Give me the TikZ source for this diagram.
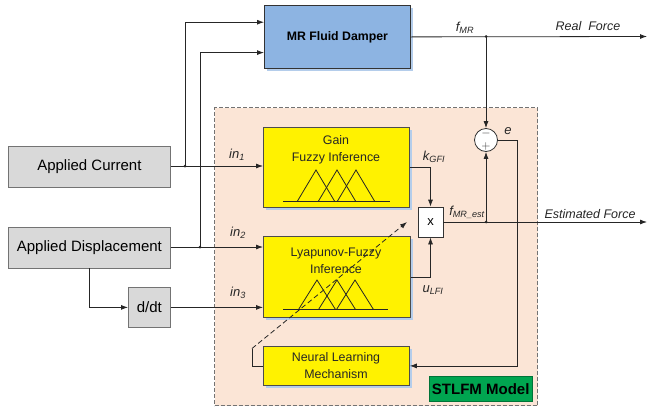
\documentclass[tikz,border=0pt]{standalone}
\usepackage{fontspec}
\setmainfont{Liberation Sans}
\usetikzlibrary{arrows.meta,calc,shadows}
\definecolor{peach}{HTML}{FBE5D6}
\definecolor{dampblue}{HTML}{8DB4E2}
\definecolor{shblue}{HTML}{B4CDEB}
\definecolor{boxgray}{HTML}{D9D9D9}
\definecolor{stlgreen}{HTML}{00A550}
\begin{document}
\begin{tikzpicture}[x=1pt,y=-1pt,
  line/.style={draw=black!85, line width=0.8pt},
  arr/.style={line, -{Latex[length=7pt,width=5pt]}},
  dot/.style={circle, fill=black!85, inner sep=0pt, minimum size=3pt},
  graybox/.style={draw=black!55, fill=boxgray, line width=0.8pt, inner sep=0pt,
    font=\fontsize{15}{17}\selectfont, anchor=north west},
  yelbox/.style={draw=black!70, fill=yellow, line width=0.8pt, inner sep=0pt, anchor=north west,
    drop shadow={shadow xshift=2.5pt, shadow yshift=-2.5pt, fill=shblue, opacity=1}},
  yeltext/.style={align=center, text=black!85, font=\fontsize{12.4}{17}\selectfont, inner sep=0pt},
  lab/.style={font=\fontsize{13}{15}\selectfont\itshape, text=black!85, inner sep=0pt},
  tri/.style={draw=black!85, line width=0.8pt}]
\useasboundingbox (0,0) rectangle (648,410);

% dashed model region
\node[draw=black!55, dashed, dash pattern=on 4pt off 2pt, line width=1pt, fill=peach,
  minimum width=323pt, minimum height=298pt, anchor=north west, inner sep=0pt] (region) at (214,107) {};

% MR fluid damper
\node[draw=black!80, fill=dampblue, line width=0.8pt, minimum width=146pt, minimum height=63pt,
  anchor=north west, inner sep=0pt, font=\fontsize{12.3}{14}\selectfont\bfseries,
  drop shadow={shadow xshift=3pt, shadow yshift=-3pt, fill=shblue, opacity=1}]
  (damper) at (264,5) {MR Fluid Damper};

% input boxes
\node[graybox, minimum width=162pt, minimum height=41pt] (cur) at (8,145.5) {Applied Current};
\node[graybox, minimum width=162pt, minimum height=41pt] (disp) at (8,226.5) {Applied Displacement};
\node[graybox, minimum width=42pt, minimum height=40pt] (ddt) at (128,287) {d/dt};

% yellow blocks
\node[yelbox, minimum width=146pt, minimum height=80pt] (gain) at (263,127) {};
\node[yelbox, minimum width=147pt, minimum height=81pt] (lyap) at (263,236) {};
\node[yelbox, minimum width=146pt, minimum height=39pt] (neural) at (263,346) {};
\node[yeltext] (gaintxt) at (336,150) {Gain\\Fuzzy Inference};
\node[yeltext] (lyaptxt) at (336,261) {Lyapunov-Fuzzy\\Inference};
\node[yeltext] (neurtxt) at (336,365.5) {Neural Learning\\Mechanism};

% membership triangles
\draw[tri] (283,201) -- (390,201);
\foreach \p in {316,337,356} \draw[tri] (\p-18.5,201) -- (\p,170) -- (\p+18.5,201);
\draw[tri] (283,309.5) -- (388,309.5);
\foreach \p in {317,337,355} \draw[tri] (\p-18.5,309.5) -- (\p,280) -- (\p+18.5,309.5);

% summing junction and multiplier
\node[circle, draw=black!80, fill=white, line width=0.8pt, minimum size=23pt, inner sep=0pt] (sum) at (486,140) {};
\node[font=\fontsize{13}{13}\selectfont, inner sep=0pt, text=black!80] (minus) at (486,133.5) {$-$};
\node[font=\fontsize{13}{13}\selectfont, inner sep=0pt, text=black!80] (plus) at (486,146.5) {$+$};
\node[draw=black!80, fill=white, line width=0.8pt, minimum width=25pt, minimum height=30pt,
  inner sep=0pt, font=\fontsize{13}{15}\selectfont] (mult) at (430.5,222) {x};

% STLFM label
\node[fill=stlgreen, draw=stlgreen!70!black, minimum width=103pt, minimum height=25pt, anchor=north west,
  inner sep=0pt, font=\fontsize{15}{17}\selectfont\bfseries] (stlfm) at (429,376) {STLFM Model};

% junctions and ends
\coordinate (j1) at (185,166);
\coordinate (j2) at (200,247);
\coordinate (jf) at (486,36.5);
\coordinate (je) at (486,222);
\coordinate (rfend) at (647,36.5);
\coordinate (efend) at (647,222);
\coordinate (eR) at (517,140);
\coordinate (dstart) at (252,348.5);
\coordinate (dend) at (407,222);
\coordinate (din1) at ($(damper.north west)!0.27!(damper.south west)$);
\coordinate (din2) at ($(damper.north west)!0.746!(damper.south west)$);

% connectors
\draw[arr] (cur.east |- j1) -- (j1 -| gain.west);
\draw[arr] (j1) |- (din1);
\draw[arr] (disp.east |- j2) -- (j2 -| lyap.west);
\draw[arr] (j2) |- (din2);
\draw[arr] (disp.south) |- (ddt.west);
\draw[arr] (ddt.east) -- (ddt.east -| lyap.west);
\draw[arr] (damper.east) -- (rfend);
\draw[arr] (jf) -- (sum.north);
\draw[arr] (gain.east) -| (mult.north);
\draw[arr] (lyap.east) -| (mult.south);
\draw[arr] (mult.east) -- (efend);
\draw[arr] (je) -- (sum.south);
\draw[arr] (sum.east) -| (eR |- neural.east) -- (neural.east);
\draw[line] (neural.west) -| (dstart);
\draw[line, dashed, dash pattern=on 5pt off 3pt, -{Latex[length=7pt,width=5pt]}] (dstart) -- (dend);
\node[dot] (dj1) at (j1) {};
\node[dot] (dj2) at (j2) {};
\node[dot] (djf) at (jf) {};
\node[dot] (dje) at (je) {};

% labels
\node[lab] (lin1) at (237,155) {in\textsubscript{1}};
\node[lab] (lin2) at (238,233) {in\textsubscript{2}};
\node[lab] (lin3) at (238,293) {in\textsubscript{3}};
\node[lab] (lfmr) at (465,28) {f\textsubscript{MR}};
\node[lab, font=\fontsize{12.5}{14}\selectfont\itshape] (lreal) at (588,26) {Real\ \ Force};
\node[lab] (lk) at (434,157) {k\textsubscript{GFI}};
\node[lab] (lfest) at (467,212) {f\textsubscript{MR\_est}};
\node[lab, font=\fontsize{12.5}{14}\selectfont\itshape] (lest) at (590,214) {Estimated Force};
\node[lab] (lu) at (433,290) {u\textsubscript{LFI}};
\node[lab] (le) at (508,131) {e};
\end{tikzpicture}
\end{document}
